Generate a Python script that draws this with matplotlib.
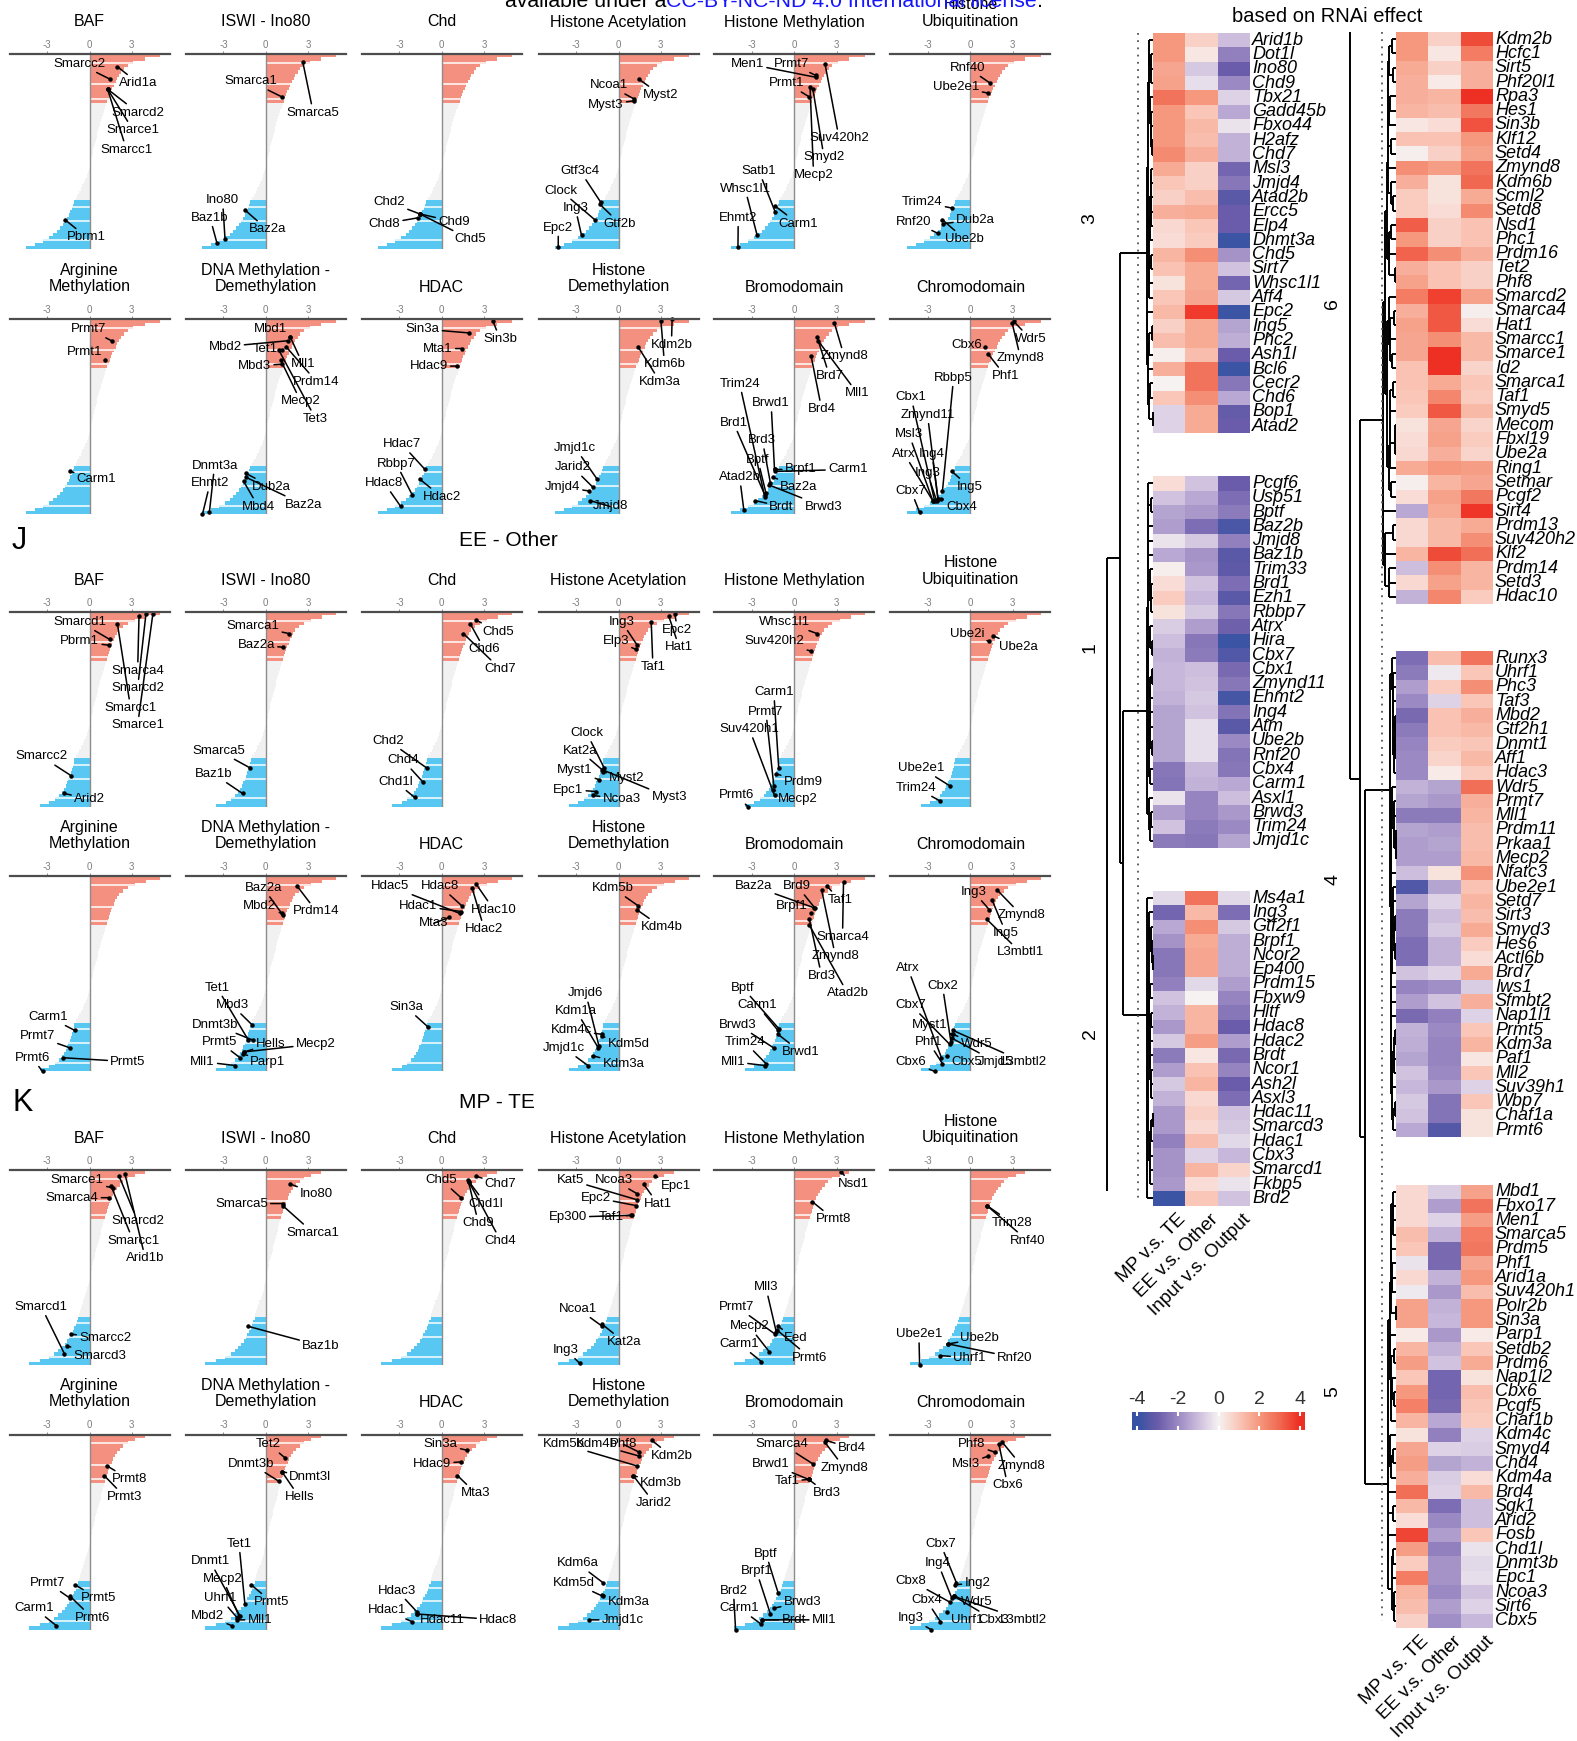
import numpy as np
import matplotlib
matplotlib.use("Agg")
import matplotlib.pyplot as plt
from matplotlib.colors import LinearSegmentedColormap, Normalize

plt.rcParams['font.family'] = ['Liberation Sans', 'DejaVu Sans']

# ranked log fold changes of the whole library, one per screen (top -> bottom)
ranked_i = [5.0, 3.9, 3.1, 2.7, 2.45, 2.25, 2.1, 1.97, 1.85, 1.74, 1.63, 1.53, 1.44, 1.35, 1.27,
            1.2, 1.12, 1.04, 0.96, 0.89, 0.82, 0.75, 0.68, 0.62, 0.56, 0.5, 0.44, 0.38, 0.32, 0.27,
            0.22, 0.17, 0.12, 0.07, 0.02, -0.05, -0.12, -0.2, -0.29, -0.39, -0.5, -0.61, -0.73, -0.86, -0.99,
            -1.1, -1.18, -1.27, -1.37, -1.48, -1.6, -1.74, -1.9, -2.08, -2.3, -2.56, -2.88, -3.3, -3.85, -4.5]
ranked_j = [5.0, 4.0, 3.2, 2.7, 2.35, 2.1, 1.95, 1.83, 1.72, 1.62, 1.53, 1.45, 1.38, 1.31, 1.24,
            1.18, 1.1, 1.03, 0.96, 0.89, 0.82, 0.75, 0.69, 0.63, 0.57, 0.51, 0.45, 0.39, 0.33, 0.28,
            0.23, 0.18, 0.13, 0.08, 0.03, -0.03, -0.1, -0.18, -0.27, -0.37, -0.48, -0.6, -0.72, -0.85, -0.98,
            -1.08, -1.13, -1.19, -1.25, -1.32, -1.4, -1.49, -1.59, -1.7, -1.83, -1.98, -2.17, -2.45, -2.85, -3.5]
ranked_k = [3.9, 3.2, 2.7, 2.4, 2.15, 1.95, 1.8, 1.67, 1.56, 1.46, 1.37, 1.29, 1.22, 1.15, 1.08,
            1.02, 0.96, 0.9, 0.84, 0.78, 0.72, 0.66, 0.6, 0.54, 0.48, 0.42, 0.36, 0.31, 0.26, 0.21,
            0.16, 0.11, 0.06, 0.01, -0.04, -0.1, -0.16, -0.23, -0.3, -0.37, -0.45, -0.53, -0.61, -0.69, -0.76,
            -0.8, -0.88, -0.97, -1.07, -1.18, -1.3, -1.43, -1.58, -1.75, -1.95, -2.2, -2.5, -2.9, -3.5, -4.3]

top_titles = ["BAF", "ISWI - Ino80", "Chd", "Histone Acetylation", "Histone Methylation",
              "Histone\nUbiquitination"]
bottom_titles = ["Arginine\nMethylation", "DNA Methylation -\nDemethylation", "HDAC",
                 "Histone\nDemethylation", "Bromodomain", "Chromodomain"]

# labelled genes: (name, logFC, rank fraction, label x, label rank fraction)
i_top_labels = [
    [("Smarcc2", 1.48, 0.13, -0.74, 0.05), ("Arid1a", 1.98, 0.065, 3.46, 0.15),
     ("Smarcd2", 1.28, 0.18, 3.41, 0.30), ("Smarce1", 1.28, 0.18, 3.09, 0.39),
     ("Smarcc1", 1.28, 0.18, 2.62, 0.49), ("Pbrm1", -1.73, 0.85, -0.2, 0.94)],
    [("Smarca1", 1.14, 0.22, -1.09, 0.14), ("Smarca5", 2.62, 0.04, 3.36, 0.30),
     ("Ino80", -2.89, 0.95, -3.06, 0.75), ("Baz1b", -3.46, 0.97, -3.95, 0.84),
     ("Baz2a", -1.48, 0.80, 0.1, 0.90)],
    [("Chd2", -1.56, 0.82, -3.73, 0.76), ("Chd8", -1.68, 0.84, -4.07, 0.87),
     ("Chd9", -1.56, 0.82, 0.86, 0.86), ("Chd5", -1.56, 0.82, 2.02, 0.95)],
    [("Ncoa1", 1.09, 0.23, -0.69, 0.16), ("Myst2", 1.46, 0.13, 3.01, 0.21),
     ("Myst3", 1.09, 0.24, -0.89, 0.26), ("Gtf3c4", -1.26, 0.76, -2.72, 0.60),
     ("Clock", -1.68, 0.85, -4.1, 0.70), ("Ing3", -2.62, 0.93, -3.06, 0.79),
     ("Gtf2b", -1.33, 0.77, 0.1, 0.87), ("Epc2", -4.27, 0.99, -4.27, 0.89)],
    [("Men1", 1.56, 0.12, -3.33, 0.05), ("Prmt7", 1.51, 0.11, -0.17, 0.05),
     ("Prmt1", 1.06, 0.22, -0.54, 0.15), ("Suv420h2", 2.17, 0.05, 3.16, 0.43),
     ("Smyd2", 1.31, 0.18, 2.1, 0.53), ("Mecp2", 1.11, 0.17, 1.36, 0.62),
     ("Satb1", -1.36, 0.81, -2.52, 0.60), ("Whsc1l1", -2.64, 0.93, -3.5, 0.69),
     ("Ehmt2", -4.0, 0.99, -3.98, 0.84), ("Carm1", -1.36, 0.78, 0.27, 0.87)],
    [("Rnf40", 1.41, 0.15, -0.2, 0.07), ("Ube2e1", 1.23, 0.20, -0.99, 0.17),
     ("Trim24", -1.31, 0.79, -3.41, 0.76), ("Rnf20", -2.3, 0.92, -4.02, 0.86),
     ("Dub2a", -1.93, 0.87, 0.35, 0.85), ("Ube2b", -1.98, 0.85, -0.4, 0.95)],
]
i_bottom_labels = [
    [("Prmt7", 1.56, 0.11, -0.05, 0.05), ("Prmt1", 1.11, 0.21, -0.37, 0.17),
     ("Carm1", -1.36, 0.78, 0.49, 0.82)],
    [("Mbd1", 1.73, 0.09, 0.32, 0.05), ("Mbd2", 1.56, 0.11, -2.89, 0.14),
     ("Tet1", 1.14, 0.16, -0.05, 0.15), ("Mll1", 1.73, 0.09, 2.62, 0.23),
     ("Mbd3", 1.14, 0.23, -0.79, 0.24), ("Prdm14", 1.43, 0.14, 3.6, 0.32),
     ("Mecp2", 1.06, 0.21, 2.47, 0.42), ("Tet3", 0.94, 0.16, 3.53, 0.51),
     ("Dnmt3a", -4.0, 0.99, -3.63, 0.75), ("Ehmt2", -4.49, 1.0, -3.95, 0.84),
     ("Dub2a", -1.41, 0.79, 0.4, 0.86), ("Mbd4", -1.58, 0.83, -0.54, 0.96),
     ("Baz2a", -1.41, 0.81, 2.67, 0.95)],
    [("Sin3a", 1.95, 0.07, -1.36, 0.05), ("Sin3b", 3.63, 0.01, 4.12, 0.10),
     ("Mta1", 1.41, 0.15, -0.27, 0.15), ("Hdac9", 1.11, 0.24, -0.94, 0.24),
     ("Hdac7", -1.19, 0.77, -2.84, 0.64), ("Rbbp7", -2.1, 0.90, -3.23, 0.74),
     ("Hdac8", -2.91, 0.96, -4.07, 0.84), ("Hdac2", -1.56, 0.82, -0.02, 0.91)],
    [("Kdm2b", 3.8, 0.0, 3.75, 0.13), ("Kdm6b", 3.01, 0.01, 3.26, 0.23),
     ("Kdm3a", 1.38, 0.14, 2.94, 0.32), ("Jmjd1c", -1.51, 0.82, -3.06, 0.66),
     ("Jarid2", -1.83, 0.86, -3.23, 0.76), ("Jmjd4", -2.12, 0.88, -3.98, 0.86),
     ("Jmjd8", -2.0, 0.93, -0.59, 0.96)],
    [("Zmynd8", 2.84, 0.02, 3.53, 0.19), ("Brd7", 1.6, 0.09, 2.49, 0.29),
     ("Mll1", 1.68, 0.11, 4.47, 0.38), ("Brd4", 1.19, 0.19, 1.93, 0.46),
     ("Trim24", -2.1, 0.91, -3.88, 0.33), ("Brwd1", -1.41, 0.77, -1.65, 0.43),
     ("Brd1", -2.1, 0.90, -4.32, 0.53), ("Brd3", -1.7, 0.84, -2.27, 0.62),
     ("Bptf", -2.02, 0.89, -2.59, 0.72), ("Atad2b", -3.58, 0.98, -3.88, 0.81),
     ("Brpf1", -1.36, 0.77, 0.44, 0.77), ("Carm1", -1.36, 0.78, 3.78, 0.77),
     ("Baz2a", -1.53, 0.81, 0.32, 0.86), ("Brdt", -2.77, 0.93, -0.91, 0.96),
     ("Brwd3", -1.78, 0.85, 2.05, 0.96)],
    [("Wdr5", 3.06, 0.01, 4.25, 0.10), ("Cbx6", 1.04, 0.14, -0.25, 0.13),
     ("Zmynd8", 2.96, 0.02, 3.56, 0.20), ("Phf1", 1.28, 0.18, 2.47, 0.29),
     ("Rbbp5", -1.98, 0.88, -1.19, 0.30), ("Cbx1", -2.54, 0.93, -4.2, 0.40),
     ("Zmynd11", -2.3, 0.92, -3.04, 0.49), ("Msl3", -2.67, 0.93, -4.35, 0.59),
     ("Atrx", -2.67, 0.93, -4.69, 0.69), ("Ing4", -2.3, 0.92, -2.72, 0.69),
     ("Ing3", -2.4, 0.93, -3.04, 0.79), ("Cbx7", -3.6, 0.99, -4.2, 0.88),
     ("Ing5", -1.31, 0.78, -0.07, 0.86), ("Cbx4", -2.05, 0.92, -0.64, 0.96)],
]
j_top_labels = [
    [("Smarcd1", 1.43, 0.14, -0.69, 0.05), ("Pbrm1", 1.36, 0.17, -0.69, 0.15),
     ("Smarca4", 3.51, 0.02, 3.41, 0.30), ("Smarcd2", 4.0, 0.01, 3.41, 0.39),
     ("Smarcc1", 1.98, 0.06, 2.91, 0.49), ("Smarce1", 4.49, 0.01, 3.41, 0.58),
     ("Smarcc2", -1.28, 0.84, -3.41, 0.74), ("Arid2", -1.78, 0.93, 0.0, 0.96)],
    [("Smarca1", 1.63, 0.11, -0.91, 0.07), ("Baz2a", 1.23, 0.18, -0.67, 0.17),
     ("Smarca5", -1.09, 0.80, -3.36, 0.71), ("Baz1b", -1.65, 0.93, -3.7, 0.83)],
    [("Chd5", 2.4, 0.04, 4.0, 0.10), ("Chd6", 2.02, 0.06, 3.01, 0.19),
     ("Chd7", 1.53, 0.11, 4.12, 0.29), ("Chd2", -1.06, 0.80, -3.78, 0.66),
     ("Chd4", -1.36, 0.87, -2.74, 0.76), ("Chd1l", -1.93, 0.95, -3.28, 0.87)],
    [("Ing3", 1.33, 0.17, 0.22, 0.05), ("Epc2", 4.0, 0.01, 4.17, 0.09),
     ("Elp3", 1.21, 0.19, -0.2, 0.15), ("Hat1", 3.56, 0.02, 4.3, 0.18),
     ("Taf1", 2.32, 0.05, 2.44, 0.28), ("Clock", -1.01, 0.80, -2.25, 0.62),
     ("Kat2a", -1.14, 0.81, -2.74, 0.71), ("Myst1", -1.38, 0.86, -3.11, 0.81),
     ("Myst2", -1.09, 0.82, 0.59, 0.85), ("Epc1", -1.58, 0.92, -3.56, 0.91),
     ("Ncoa3", -1.83, 0.94, 0.22, 0.96), ("Myst3", -1.09, 0.81, 3.6, 0.95)],
    [("Whsc1l1", 1.6, 0.11, -0.67, 0.05), ("Suv420h2", 1.19, 0.20, -1.41, 0.15),
     ("Carm1", -1.11, 0.80, -1.46, 0.41), ("Prmt7", -1.46, 0.89, -2.02, 0.51),
     ("Suv420h1", -1.41, 0.94, -3.19, 0.60), ("Prdm9", -1.28, 0.83, 0.62, 0.87),
     ("Mecp2", -1.53, 0.91, 0.27, 0.96), ("Prmt6", -3.26, 1.0, -4.12, 0.94)],
    [("Ube2i", 1.33, 0.15, -0.25, 0.11), ("Ube2a", 1.58, 0.12, 3.38, 0.18),
     ("Ube2e1", -1.48, 0.89, -3.46, 0.80), ("Trim24", -2.12, 0.97, -3.85, 0.90)],
]
j_bottom_labels = [
    [("Carm1", -1.04, 0.79, -2.91, 0.72), ("Prmt7", -1.36, 0.88, -3.7, 0.82),
     ("Prmt6", -3.33, 1.0, -4.07, 0.93), ("Prmt5", -1.85, 0.93, 2.72, 0.95)],
    [("Baz2a", 1.23, 0.20, -0.17, 0.06), ("Mbd2", 1.14, 0.19, -0.42, 0.15),
     ("Prdm14", 2.22, 0.05, 3.6, 0.18), ("Tet1", -1.23, 0.84, -3.46, 0.57),
     ("Mbd3", -0.99, 0.76, -2.4, 0.66), ("Dnmt3b", -0.91, 0.84, -3.63, 0.76),
     ("Prmt5", -1.83, 0.93, -3.26, 0.85), ("Hells", -1.53, 0.90, 0.32, 0.86),
     ("Mecp2", -1.53, 0.90, 3.53, 0.86), ("Mll1", -2.15, 0.97, -4.49, 0.95),
     ("Parp1", -1.65, 0.91, 0.15, 0.95)],
    [("Hdac5", 1.28, 0.19, -3.65, 0.05), ("Hdac8", 1.41, 0.15, -0.12, 0.05),
     ("Hdac1", 1.36, 0.18, -1.68, 0.15), ("Hdac10", 2.44, 0.04, 3.68, 0.17),
     ("Mta3", 0.54, 0.21, -0.57, 0.24), ("Hdac2", 2.15, 0.06, 3.01, 0.27),
     ("Sin3a", -1.01, 0.77, -2.54, 0.67)],
    [("Kdm5b", 1.38, 0.15, -0.4, 0.06), ("Kdm4b", 1.28, 0.17, 3.06, 0.26),
     ("Jmjd6", -1.38, 0.87, -2.32, 0.60), ("Kdm1a", -1.43, 0.88, -2.99, 0.69),
     ("Kdm4c", -1.14, 0.81, -3.36, 0.79), ("Kdm5d", -1.19, 0.82, 0.72, 0.86),
     ("Jmjd1c", -2.17, 0.97, -3.85, 0.88), ("Kdm3a", -1.83, 0.92, 0.35, 0.96)],
    [("Baz2a", 1.36, 0.16, -2.89, 0.05), ("Brd9", 1.43, 0.16, 0.2, 0.05),
     ("Taf1", 2.3, 0.05, 3.23, 0.12), ("Brpf1", 1.19, 0.19, -0.17, 0.15),
     ("Smarca4", 3.48, 0.03, 3.41, 0.31), ("Zmynd8", 1.93, 0.07, 2.91, 0.41),
     ("Brd3", 1.06, 0.22, 1.93, 0.51), ("Atad2b", 1.06, 0.25, 3.78, 0.60),
     ("Bptf", -1.11, 0.78, -3.68, 0.57), ("Carm1", -1.16, 0.79, -2.64, 0.66),
     ("Brwd3", -1.46, 0.88, -4.0, 0.76), ("Trim24", -2.02, 0.96, -3.51, 0.85),
     ("Mll1", -2.1, 0.97, -4.37, 0.95), ("Brwd1", -1.16, 0.81, 0.44, 0.90)],
    [("Ing3", 1.33, 0.17, 0.25, 0.08), ("Zmynd8", 1.9, 0.07, 3.63, 0.20),
     ("Ing5", 1.53, 0.12, 2.52, 0.29), ("L3mbtl1", 1.16, 0.22, 3.56, 0.39),
     ("Atrx", -2.05, 0.93, -4.44, 0.47), ("Cbx2", -1.38, 0.85, -1.98, 0.56),
     ("Cbx7", -1.48, 0.86, -4.2, 0.66), ("Myst1", -1.31, 0.81, -2.91, 0.76),
     ("Phf1", -1.98, 0.96, -2.96, 0.85), ("Wdr5", -1.23, 0.81, 0.42, 0.86),
     ("Cbx6", -2.54, 1.0, -4.2, 0.95), ("Cbx5", -1.68, 0.92, -0.25, 0.95),
     ("Jmjd5", -1.31, 0.83, 1.78, 0.95), ("L3mbtl2", -1.23, 0.79, 3.75, 0.95)],
]
k_top_labels = [
    [("Smarce1", 1.68, 0.09, -0.86, 0.05), ("Smarca4", 1.36, 0.14, -1.23, 0.14),
     ("Smarcd2", 2.1, 0.03, 3.41, 0.26), ("Smarcc1", 1.53, 0.08, 3.09, 0.36),
     ("Arid1b", 2.52, 0.02, 3.95, 0.45), ("Smarcd1", -1.78, 0.94, -3.41, 0.70),
     ("Smarcc2", -1.28, 0.84, 1.11, 0.86), ("Smarcd3", -1.6, 0.90, 0.74, 0.95)],
    [("Ino80", 1.73, 0.07, 3.6, 0.12), ("Smarca5", 1.23, 0.17, -1.73, 0.17),
     ("Smarca1", 1.19, 0.18, 3.36, 0.32), ("Baz1b", -1.23, 0.80, 3.9, 0.90)],
    [("Chd5", 1.36, 0.14, -0.02, 0.05), ("Chd7", 2.44, 0.03, 4.17, 0.07),
     ("Chd1l", 1.95, 0.06, 3.09, 0.17), ("Chd9", 1.9, 0.06, 2.59, 0.27),
     ("Chd4", 1.85, 0.05, 4.17, 0.36)],
    [("Kat5", 1.28, 0.15, -3.41, 0.05), ("Ncoa3", 1.33, 0.12, -0.35, 0.05),
     ("Epc1", 2.62, 0.03, 4.05, 0.08), ("Epc2", 1.21, 0.18, -1.63, 0.14),
     ("Hat1", 1.78, 0.07, 2.77, 0.17), ("Ep300", 0.96, 0.23, -3.6, 0.24),
     ("Taf1", 0.89, 0.23, -0.52, 0.24), ("Ncoa1", -1.14, 0.80, -2.86, 0.71),
     ("Kat2a", -1.14, 0.79, 0.4, 0.88), ("Ing3", -2.74, 0.99, -3.73, 0.92)],
    [("Nsd1", 3.33, 0.01, 4.15, 0.07), ("Prmt8", 1.26, 0.16, 2.79, 0.25),
     ("Mll3", -1.28, 0.83, -2.02, 0.60), ("Prmt7", -1.36, 0.84, -4.07, 0.70),
     ("Mecp2", -1.78, 0.93, -3.19, 0.80), ("Eed", -1.16, 0.80, 0.07, 0.86),
     ("Carm1", -2.35, 0.98, -3.88, 0.89), ("Prmt6", -1.21, 0.82, 1.11, 0.96)],
    [("Trim28", 1.16, 0.18, 2.96, 0.27), ("Rnf40", 1.16, 0.18, 4.05, 0.36),
     ("Ube2e1", -3.6, 1.0, -3.65, 0.84), ("Ube2b", -1.56, 0.89, 0.67, 0.86),
     ("Uhrf1", -2.12, 0.95, -0.07, 0.96), ("Rnf20", -1.56, 0.89, 3.14, 0.96)],
]
k_bottom_labels = [
    [("Prmt8", 1.23, 0.16, 2.84, 0.23), ("Prmt3", 1.04, 0.21, 2.52, 0.32),
     ("Prmt7", -1.36, 0.84, -2.96, 0.76), ("Prmt5", -1.04, 0.77, 0.62, 0.84),
     ("Carm1", -2.35, 0.98, -3.9, 0.89), ("Prmt6", -1.36, 0.83, 0.2, 0.94)],
    [("Tet2", 1.38, 0.12, 0.2, 0.05), ("Dnmt3b", 0.94, 0.24, -1.04, 0.15),
     ("Dnmt3l", 1.14, 0.19, 3.16, 0.22), ("Hells", 1.14, 0.19, 2.37, 0.32),
     ("Tet1", -1.48, 0.87, -1.9, 0.56), ("Dnmt1", -1.83, 0.93, -3.95, 0.65),
     ("Mecp2", -1.9, 0.93, -3.06, 0.74), ("Uhrf1", -2.02, 0.94, -3.21, 0.84),
     ("Prmt5", -1.04, 0.77, 0.44, 0.86), ("Mbd2", -2.4, 0.98, -4.12, 0.93),
     ("Mll1", -2.02, 0.95, -0.42, 0.95)],
    [("Sin3a", 1.78, 0.08, -0.07, 0.05), ("Hdac9", 1.36, 0.14, -0.69, 0.15),
     ("Mta3", 1.11, 0.21, 2.4, 0.30), ("Hdac3", -1.75, 0.91, -3.16, 0.80),
     ("Hdac1", -2.1, 0.96, -3.9, 0.90), ("Hdac11", -1.75, 0.92, 0.05, 0.95),
     ("Hdac8", -1.75, 0.92, 4.0, 0.95)],
    [("Kdm5b", 1.28, 0.16, -3.85, 0.05), ("Kdm4b", 1.46, 0.11, -1.51, 0.05),
     ("Phf8", 1.46, 0.09, 0.35, 0.05), ("Kdm2b", 2.37, 0.03, 3.75, 0.11),
     ("Kdm3b", 1.04, 0.21, 3.01, 0.25), ("Jarid2", 1.04, 0.21, 2.52, 0.35),
     ("Kdm6a", -1.09, 0.76, -2.91, 0.66), ("Kdm5d", -1.09, 0.83, -3.16, 0.76),
     ("Kdm3a", -1.19, 0.82, 0.72, 0.86), ("Jmjd1c", -2.12, 0.95, 0.3, 0.95)],
    [("Smarca4", 1.31, 0.15, -0.86, 0.05), ("Brd4", 2.25, 0.03, 4.07, 0.07),
     ("Zmynd8", 2.17, 0.04, 3.53, 0.17), ("Brwd1", 1.01, 0.23, -1.65, 0.15),
     ("Taf1", 1.01, 0.23, -0.54, 0.24), ("Brd3", 1.01, 0.23, 2.3, 0.30),
     ("Bptf", -1.16, 0.81, -2.02, 0.61), ("Brpf1", -1.7, 0.92, -2.69, 0.70),
     ("Brd2", -4.17, 1.0, -4.32, 0.80), ("Carm1", -2.4, 0.97, -3.88, 0.89),
     ("Brwd3", -1.46, 0.89, 0.57, 0.86), ("Brdt", -2.27, 0.95, -0.05, 0.95),
     ("Mll1", -2.27, 0.95, 2.1, 0.95)],
    [("Phf8", 1.73, 0.09, 0.1, 0.05), ("Msl3", 1.28, 0.11, -0.32, 0.15),
     ("Zmynd8", 2.27, 0.04, 3.63, 0.16), ("Cbx6", 2.02, 0.05, 2.64, 0.26),
     ("Cbx7", -0.99, 0.76, -2.12, 0.56), ("Ing4", -1.31, 0.84, -2.3, 0.66),
     ("Ing2", -1.06, 0.77, 0.49, 0.76), ("Cbx8", -1.43, 0.86, -4.2, 0.75),
     ("Wdr5", -1.14, 0.83, 0.42, 0.86), ("Cbx4", -2.12, 0.96, -3.11, 0.85),
     ("Ing3", -2.79, 1.0, -4.2, 0.94), ("Uhrf1", -1.68, 0.91, -0.25, 0.95),
     ("Cbx3", -1.14, 0.83, 1.65, 0.95), ("L3mbtl2", -1.14, 0.83, 3.75, 0.95)],
]

# heatmap: (MP v.s. TE, EE v.s. Other, Input v.s. Output) per gene
c3_genes = ["Arid1b", "Dot1l", "Ino80", "Chd9", "Tbx21", "Gadd45b", "Fbxo44", "H2afz", "Chd7", "Msl3",
            "Jmjd4", "Atad2b", "Ercc5", "Elp4", "Dnmt3a", "Chd5", "Sirt7", "Whsc1l1", "Aff4", "Epc2",
            "Ing5", "Phc2", "Ash1l", "Bcl6", "Cecr2", "Chd6", "Bop1", "Atad2"]
c3_vals = [(2.0, 0.8, -1.0), (2.0, 0.3, -2.2), (1.7, -0.8, -3.0), (1.8, -0.4, -2.0), (2.8, 2.0, -0.6),
           (2.0, 1.0, -1.4), (2.0, 1.3, -0.3), (2.0, 1.2, -1.2), (2.3, 1.5, -1.2), (1.6, 0.8, -2.8),
           (1.0, 0.8, -2.4), (0.8, 1.2, -3.3), (1.5, 1.6, -3.0), (0.6, 1.0, -3.0), (0.5, 0.9, -3.9),
           (1.4, 2.2, -1.8), (1.1, 1.6, -0.9), (0.4, 1.6, -2.8), (1.0, 1.7, -0.8), (1.3, 3.8, -3.9),
           (0.8, 1.6, -1.5), (1.2, 1.6, -1.3), (0.1, 1.2, -3.0), (1.5, 2.8, -3.9), (0.0, 2.8, -2.4),
           (1.0, 2.2, -1.4), (-0.6, 1.6, -3.1), (-0.6, 1.6, -3.0)]
c1_genes = ["Pcgf6", "Usp51", "Bptf", "Baz2b", "Jmjd8", "Baz1b", "Trim33", "Brd1", "Ezh1", "Rbbp7",
            "Atrx", "Hira", "Cbx7", "Cbx1", "Zmynd11", "Ehmt2", "Ing4", "Atm", "Ube2b", "Rnf20",
            "Cbx4", "Carm1", "Asxl1", "Brwd3", "Trim24", "Jmjd1c"]
c1_vals = [(0.5, -0.9, -3.0), (-0.9, -1.4, -2.6), (-1.5, -1.7, -2.3), (-1.6, -2.6, -3.6), (-0.3, -0.8, -2.2),
           (-1.4, -1.8, -3.3), (0.1, -1.7, -3.2), (0.5, -0.9, -2.6), (0.9, -1.1, -3.3), (0.4, -0.8, -2.4),
           (-0.7, -1.6, -2.9), (-1.0, -2.4, -3.9), (-1.2, -2.3, -3.5), (-1.1, -1.0, -2.7), (-1.1, -0.9, -2.4),
           (-1.2, -0.8, -3.7), (-1.5, -0.9, -2.5), (-1.5, -0.4, -3.3), (-1.5, -0.4, -2.0), (-1.5, -0.4, -2.5),
           (-2.4, -1.1, -2.4), (-2.5, -1.2, -1.4), (-0.3, -2.1, -1.0), (-1.6, -2.1, -1.7), (-0.9, -2.3, -2.0),
           (-2.3, -2.4, -1.5)]
c2_genes = ["Ms4a1", "Ing3", "Gtf2f1", "Brpf1", "Ncor2", "Ep400", "Prdm15", "Fbxw9", "Hltf", "Hdac8",
            "Hdac2", "Brdt", "Ncor1", "Ash2l", "Asxl3", "Hdac11", "Smarcd3", "Hdac1", "Cbx3", "Smarcd1",
            "Fkbp5", "Brd2"]
c2_vals = [(-0.5, 2.8, -0.5), (-2.8, 1.3, -2.6), (-1.4, 2.2, -0.8), (-1.8, 1.6, -1.3), (-2.4, 1.7, -1.3),
           (-2.4, 1.7, -1.3), (-2.2, -0.5, -1.6), (-0.9, 0.0, -2.1), (-1.2, 1.4, -2.4), (-1.7, 1.4, -3.0),
           (-0.8, 1.9, -1.6), (-2.3, 0.3, -2.7), (-1.6, 1.1, -2.1), (-0.8, 1.4, -3.0), (-1.2, 0.6, -2.6),
           (-1.7, 0.8, -0.9), (-1.7, 0.6, -0.8), (-2.2, 1.2, -0.5), (-1.8, -0.6, -1.1), (-1.8, 1.4, 0.7),
           (-1.7, 0.5, -0.3), (-3.9, 1.0, -0.9)]
c6_genes = ["Kdm2b", "Hcfc1", "Sirt5", "Phf20l1", "Rpa3", "Hes1", "Sin3b", "Klf12", "Setd4", "Zmynd8",
            "Kdm6b", "Scml2", "Setd8", "Nsd1", "Phc1", "Prdm16", "Tet2", "Phf8", "Smarcd2", "Smarca4",
            "Hat1", "Smarcc1", "Smarce1", "Id2", "Smarca1", "Taf1", "Smyd5", "Mecom", "Fbxl19", "Ube2a",
            "Ring1", "Setmar", "Pcgf2", "Sirt4", "Prdm13", "Suv420h2", "Klf2", "Prdm14", "Setd3", "Hdac10"]
c6_vals = [(2.0, 0.8, 3.5), (2.0, 0.3, 2.6), (1.6, 0.8, 1.5), (1.5, 0.2, 1.5), (1.5, 1.4, 4.0),
           (1.4, 1.2, 2.7), (0.3, 0.5, 3.4), (1.1, 1.1, 2.0), (0.1, 0.8, 1.8), (2.2, 1.9, 2.8),
           (1.5, 0.4, 3.0), (0.9, 0.4, 1.6), (0.9, 0.5, 2.3), (3.2, 0.8, 1.1), (2.0, 0.8, 1.1),
           (3.1, 2.2, 1.5), (1.5, 1.1, 0.8), (1.8, 1.1, 0.8), (2.6, 3.7, 1.8), (1.5, 3.3, 0.1),
           (1.8, 3.3, 0.5), (1.7, 2.2, 1.3), (1.7, 4.0, 1.3), (1.1, 4.0, 0.7), (1.1, 1.6, 1.0),
           (1.0, 2.4, 0.9), (0.9, 3.3, 1.3), (0.4, 1.7, 0.7), (0.5, 1.8, 0.9), (0.6, 1.5, 0.7),
           (1.6, 2.0, 1.9), (0.1, 1.4, 1.7), (0.5, 1.8, 2.7), (-1.4, 1.6, 3.9), (0.6, 1.3, 1.6),
           (0.6, 1.3, 2.2), (1.4, 3.5, 2.9), (-1.0, 2.2, 1.4), (0.6, 1.8, 1.4), (-1.2, 2.4, 0.9)]
c4_genes = ["Runx3", "Uhrf1", "Phc3", "Taf3", "Mbd2", "Gtf2h1", "Dnmt1", "Aff1", "Hdac3", "Wdr5",
            "Prmt7", "Mll1", "Prdm11", "Prkaa1", "Mecp2", "Nfatc3", "Ube2e1", "Setd7", "Sirt3", "Smyd3",
            "Hes6", "Actl6b", "Brd7", "Iws1", "Sfmbt2", "Nap1l1", "Prmt5", "Kdm3a", "Paf1", "Mll2",
            "Suv39h1", "Wbp7", "Chaf1a", "Prmt6"]
c4_vals = [(-2.6, 1.2, 2.8), (-2.3, -0.2, 1.0), (-1.6, 0.9, 2.2), (-2.0, -0.6, 1.0), (-2.7, 1.1, 1.5),
           (-2.3, 1.1, 1.3), (-2.1, 0.9, 1.0), (-2.0, 0.7, 1.3), (-2.0, 0.2, 0.9), (-1.2, -1.5, 2.9),
           (-1.5, -1.7, 1.5), (-2.3, -2.3, 1.4), (-1.5, -1.6, 1.2), (-1.6, -1.5, 1.2), (-1.6, -1.6, 1.3),
           (-1.0, 0.4, 2.1), (-3.5, -1.5, 1.1), (-1.5, -0.6, 1.4), (-2.3, -1.0, 1.2), (-2.3, -0.8, 1.6),
           (-2.6, -1.2, 0.9), (-2.6, -1.2, 0.5), (-0.9, -0.6, 1.6), (-2.1, -1.9, -0.7), (-1.6, -0.9, 1.5),
           (-2.7, -2.2, -0.6), (-1.2, -2.0, 1.0), (-1.3, -2.1, 1.4), (-1.5, -2.1, 0.3), (-0.9, -2.0, 1.0),
           (-1.1, -1.7, -0.6), (-0.8, -2.5, 1.0), (-0.9, -2.5, 0.4), (-1.4, -3.4, 0.4)]
c5_genes = ["Mbd1", "Fbxo17", "Men1", "Smarca5", "Prdm5", "Phf1", "Arid1a", "Suv420h1", "Polr2b", "Sin3a",
            "Parp1", "Setdb2", "Prdm6", "Nap1l2", "Cbx6", "Pcgf5", "Chaf1b", "Kdm4c", "Smyd4", "Chd4",
            "Kdm4a", "Brd4", "Sgk1", "Arid2", "Fosb", "Chd1l", "Dnmt3b", "Epc1", "Ncoa3", "Sirt6", "Cbx5"]
c5_vals = [(0.6, -0.7, 1.8), (0.6, -1.6, 2.8), (0.6, -0.6, 1.9), (1.2, -1.2, 2.6), (1.0, -2.7, 2.7),
           (-0.3, -2.7, 1.7), (0.6, -1.2, 2.0), (-0.2, -1.7, 1.2), (1.8, -1.2, 2.0), (1.8, -1.1, 2.0),
           (0.2, -1.7, 0.2), (1.4, -1.2, 1.0), (1.9, -0.9, 1.6), (1.0, -2.8, 0.4), (2.0, -2.8, 1.2),
           (2.5, -2.7, 1.0), (1.4, -1.4, 0.9), (0.4, -2.2, -0.6), (1.7, -0.6, -0.7), (1.9, -1.5, -1.2),
           (1.5, -0.7, 0.5), (2.9, -0.6, 1.3), (1.3, -2.6, -1.0), (0.5, -2.0, -1.0), (3.6, -1.6, 1.0),
           (1.9, -2.2, -0.3), (0.9, -1.8, -0.5), (2.6, -1.8, -0.4), (1.4, -2.0, -0.9), (1.2, -1.6, -0.6),
           (0.8, -1.9, -1.1)]
contrast_names = ["MP v.s. TE", "EE v.s. Other", "Input v.s. Output"]

RED, GREY, BLUE = "#F3907F", "#F1F1F1", "#58C7F2"
STRIPES = [0.045, 0.155, 0.23, 0.785, 0.855, 0.955]
XLIM = 5.67

W, H = 1577, 1741
fig = plt.figure(figsize=(W / 100, H / 100), dpi=100)


def px_axes(x0, y0, x1, y1):
    return fig.add_axes([x0 / W, 1 - y1 / H, (x1 - x0) / W, (y1 - y0) / H])


def px_text(x, y, s, **kw):
    return fig.text(x / W, 1 - y / H, s, **kw)


def waterfall(ax, ranked, labels):
    vals = np.asarray(ranked, dtype=float)
    n = len(vals)
    q = n // 4
    edges = np.arange(n + 1) / n
    # each tier is filled as one stepped polygon, so no seams appear between bars
    for lo, hi, col in [(0, q, RED), (q, n - q, GREY), (n - q, n, BLUE)]:
        ys = np.repeat(edges[lo:hi + 1], 2)[1:-1]
        xs = np.repeat(vals[lo:hi], 2)
        ax.fill_betweenx(ys, 0, xs, color=col, linewidth=0)
    for s in STRIPES:
        ax.axhline(s, color="white", lw=1.1)
    ax.axvline(0, color="#8c8c8c", lw=1.0)
    ax.set_xlim(-XLIM, XLIM)
    ax.set_ylim(1, 0)
    for side in ["left", "right", "bottom"]:
        ax.spines[side].set_visible(False)
    ax.spines["top"].set_color("#4d4d4d")
    ax.spines["top"].set_linewidth(1.6)
    ax.spines["top"].set_zorder(5)
    ax.set_xticks([-3, 0, 3])
    ax.set_xticklabels(["-3", "0", "3"])
    ax.tick_params(axis="x", top=True, bottom=False, labeltop=True, labelbottom=False,
                   length=2, width=0.7, color="#8c8c8c", labelcolor="#7f7f7f", labelsize=7, pad=1)
    ax.set_yticks([])
    ax.patch.set_alpha(0)
    for name, gx, gy, tx, ty in labels:
        ax.annotate(name, xy=(gx, gy), xytext=(tx, ty), ha="center", va="center", fontsize=9.5,
                    annotation_clip=False,
                    arrowprops=dict(arrowstyle="-", color="black", lw=1.1, shrinkA=0, shrinkB=0))
        ax.plot(gx, gy, "o", ms=2.2, color="black", clip_on=False)


col_zero = [89.5, 265.8, 441.8, 618.5, 794.4, 970.4]
PANEL_H = 195
blocks = [
    (ranked_i, 54.0, 319.3, i_top_labels, i_bottom_labels),
    (ranked_j, 612.1, 876.4, j_top_labels, j_bottom_labels),
    (ranked_k, 1170.4, 1434.6, k_top_labels, k_bottom_labels),
]

for ranked, y_top, y_bot, top_labels, bot_labels in blocks:
    for y_axis, titles, labels in [(y_top, top_titles, top_labels), (y_bot, bottom_titles, bot_labels)]:
        for c, z in enumerate(col_zero):
            ax = px_axes(z - 80, y_axis, z + 80, y_axis + PANEL_H)
            waterfall(ax, ranked, labels[c])
            t = titles[c]
            ty = y_axis - (41 if "\n" in t else 32)
            px_text(z, ty, t, ha="center", va="center", fontsize=11.5, linespacing=1.12)

# block headers
px_text(12, 541, "J", fontsize=22, ha="left", va="center")
px_text(459, 541, "EE - Other", fontsize=15, ha="left", va="center")
px_text(13, 1103, "K", fontsize=22, ha="left", va="center")
px_text(459, 1103, "MP - TE", fontsize=15, ha="left", va="center")

# preprint licence line clipped at the top edge
renderer = fig.canvas.get_renderer()
x_cur = 505
for piece, col in [("available under a", "black"),
                   ("CC-BY-NC-ND 4.0 International license", "#1414ff"), (".", "black")]:
    t = px_text(x_cur, 7, piece, fontsize=15.3, ha="left", va="baseline", color=col)
    x_cur = t.get_window_extent(renderer).x1

px_text(1327, 17, "based on RNAi effect", fontsize=14.5, ha="center", va="center")

# ---- clustered heatmap ----
cmap = LinearSegmentedColormap.from_list(
    "rnai", [(0.0, "#3653A3"), (0.125, "#6A5CAA"), (0.25, "#9B89C3"), (0.375, "#CDBDDD"),
             (0.5, "#F6F3F3"), (0.625, "#F9C7B9"), (0.75, "#F5997F"), (0.875, "#F16A52"),
             (1.0, "#EE2F23")])
norm = Normalize(vmin=-4, vmax=4)
ROW_H = 14.3
CELL_W = 97


def adjacent_tree(arr):
    groups = [[i] for i in range(len(arr))]
    ys = [i + 0.5 for i in range(len(arr))]
    hs = [0.0] * len(arr)
    segs = []
    while len(groups) > 1:
        d = [np.mean(np.linalg.norm(arr[groups[k]][:, None, :] - arr[groups[k + 1]][None, :, :], axis=2))
             for k in range(len(groups) - 1)]
        k = int(np.argmin(d))
        h = max(d[k], hs[k], hs[k + 1])
        segs += [[(hs[k], ys[k]), (h, ys[k])], [(hs[k + 1], ys[k + 1]), (h, ys[k + 1])],
                 [(h, ys[k]), (h, ys[k + 1])]]
        groups[k:k + 2] = [groups[k] + groups[k + 1]]
        ys[k:k + 2] = [(ys[k] + ys[k + 1]) / 2]
        hs[k:k + 2] = [h]
    return segs, ys[0], hs[0]


def heat_column(x0, y0, clusters, gap, merge_px, cut_px, stem_up):
    nrows = sum(len(g) for _, g, _, _ in clusters) + gap * (len(clusters) - 1)
    ax = px_axes(x0, y0, x0 + CELL_W, y0 + nrows * ROW_H)
    unit = CELL_W / 3.0
    ax.set_xlim(0, 3)
    ax.set_ylim(nrows, 0)
    ax.axis("off")
    kw = dict(color="black", lw=1.4, clip_on=False, solid_capstyle="butt")
    top = 0
    roots = []
    for label, genes, vals, root_px in clusters:
        arr = np.array(vals, dtype=float)
        ax.pcolormesh(np.arange(4), np.arange(top, top + len(genes) + 1), arr, cmap=cmap, norm=norm)
        for i, g in enumerate(genes):
            ax.text(3.06, top + i + 0.5, g, fontsize=13, style="italic", va="center", ha="left")
        segs, ry, rh = adjacent_tree(arr)
        for (h0, ya), (h1, yb) in segs:
            ax.plot([-h0 / rh * root_px / unit, -h1 / rh * root_px / unit], [top + ya, top + yb], **kw)
        roots.append((top + ry, root_px))
        ax.text(-63 / unit, top + len(genes) / 2 - 1, label, rotation=90, fontsize=14,
                ha="center", va="center")
        top += len(genes) + gap
    # upper levels of the tree
    (y0r, h0r), (y1r, h1r), (y2r, h2r) = roots
    ha, hb, hroot = [m / unit for m in merge_px]
    ya = (y1r + y2r) / 2
    ax.plot([-h1r / unit, -ha], [y1r, y1r], **kw)
    ax.plot([-h2r / unit, -ha], [y2r, y2r], **kw)
    ax.plot([-ha, -ha], [y1r, y2r], **kw)
    yb = (y0r + ya) / 2
    ax.plot([-h0r / unit, -hb], [y0r, y0r], **kw)
    ax.plot([-ha, -hb], [ya, ya], **kw)
    ax.plot([-hb, -hb], [y0r, ya], **kw)
    ax.plot([-hb, -hroot], [yb, yb], **kw)
    ax.plot([-hroot, -hroot], [yb, 0 if stem_up else nrows - 1], **kw)
    ax.plot([-cut_px / unit] * 2, [0, nrows - 0.5], color="#555555", lw=1.3, ls=(0, (1, 3)), clip_on=False)
    for j, name in enumerate(contrast_names):
        ax.text(j + 0.75, nrows + 0.35, name, rotation=45, rotation_mode="anchor",
                ha="right", va="top", fontsize=13.5)
    return ax


heat_column(1153, 33, [("3", c3_genes, c3_vals, 6), ("1", c1_genes, c1_vals, 6),
                       ("2", c2_genes, c2_vals, 6)], 3.0, [30, 33, 46], 15, False)
heat_column(1396, 32, [("6", c6_genes, c6_vals, 13), ("4", c4_genes, c4_vals, 6),
                       ("5", c5_genes, c5_vals, 8)], 3.3, [31, 36, 46], 14, True)

# colour key
cax = px_axes(1132, 1412, 1305, 1430)
grad = np.linspace(-4.25, 4.25, 300)[None, :]
cax.imshow(grad, cmap=cmap, norm=norm, extent=(-4.25, 4.25, 0, 1), aspect="auto")
cax.vlines([-4, -2, 0, 2, 4], 0, 0.2, color="white", lw=1.5)
cax.vlines([-4, -2, 0, 2, 4], 0.8, 1, color="white", lw=1.5)
cax.set_xlim(-4.25, 4.25)
cax.set_yticks([])
cax.set_xticks([-4, -2, 0, 2, 4])
cax.set_xticklabels(["-4", "-2", "0", "2", "4"])
cax.tick_params(axis="x", top=True, bottom=False, labeltop=True, labelbottom=False,
                length=0, labelsize=14, labelcolor="#333333", pad=3)
for s in cax.spines.values():
    s.set_visible(False)

fig.savefig("out.png", dpi=100)
